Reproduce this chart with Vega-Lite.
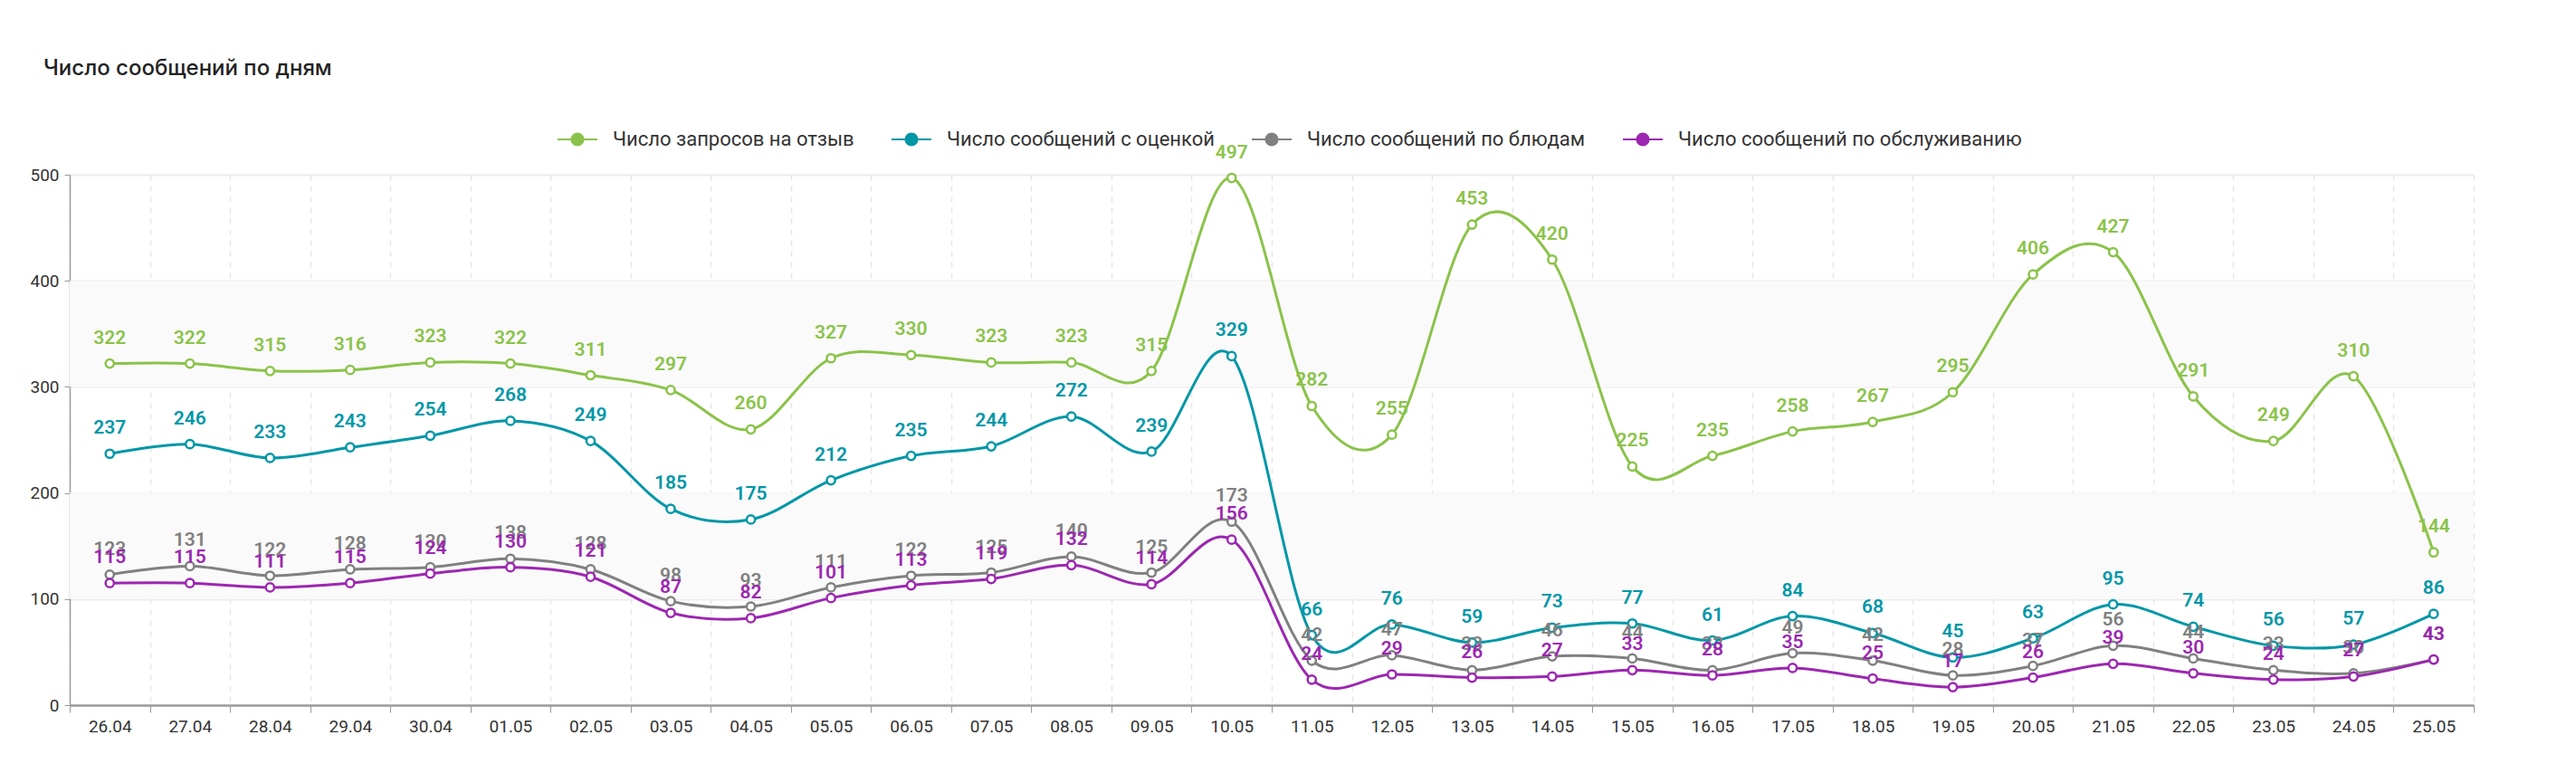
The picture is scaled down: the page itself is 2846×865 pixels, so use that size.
{
  "$schema": "https://vega.github.io/schema/vega-lite/v6.json",
  "width": 2656,
  "height": 586,
  "autosize": {"type": "none"},
  "padding": {"left": 77, "top": 193, "right": 113, "bottom": 86},
  "background": "#ffffff",
  "title": {
    "text": "Число сообщений по дням",
    "anchor": "start",
    "frame": "group",
    "dx": -29,
    "offset": 43,
    "font": "Inter",
    "fontSize": 24,
    "fontWeight": 500,
    "color": "#222222"
  },
  "datasets": {
    "stripes": [
      {"lo": 100, "hi": 200},
      {"lo": 300, "hi": 400}
    ],
    "counts": [
      {"day": "26.04", "series": "Число запросов на отзыв", "value": 322},
      {"day": "27.04", "series": "Число запросов на отзыв", "value": 322},
      {"day": "28.04", "series": "Число запросов на отзыв", "value": 315},
      {"day": "29.04", "series": "Число запросов на отзыв", "value": 316},
      {"day": "30.04", "series": "Число запросов на отзыв", "value": 323},
      {"day": "01.05", "series": "Число запросов на отзыв", "value": 322},
      {"day": "02.05", "series": "Число запросов на отзыв", "value": 311},
      {"day": "03.05", "series": "Число запросов на отзыв", "value": 297},
      {"day": "04.05", "series": "Число запросов на отзыв", "value": 260},
      {"day": "05.05", "series": "Число запросов на отзыв", "value": 327},
      {"day": "06.05", "series": "Число запросов на отзыв", "value": 330},
      {"day": "07.05", "series": "Число запросов на отзыв", "value": 323},
      {"day": "08.05", "series": "Число запросов на отзыв", "value": 323},
      {"day": "09.05", "series": "Число запросов на отзыв", "value": 315},
      {"day": "10.05", "series": "Число запросов на отзыв", "value": 497},
      {"day": "11.05", "series": "Число запросов на отзыв", "value": 282},
      {"day": "12.05", "series": "Число запросов на отзыв", "value": 255},
      {"day": "13.05", "series": "Число запросов на отзыв", "value": 453},
      {"day": "14.05", "series": "Число запросов на отзыв", "value": 420},
      {"day": "15.05", "series": "Число запросов на отзыв", "value": 225},
      {"day": "16.05", "series": "Число запросов на отзыв", "value": 235},
      {"day": "17.05", "series": "Число запросов на отзыв", "value": 258},
      {"day": "18.05", "series": "Число запросов на отзыв", "value": 267},
      {"day": "19.05", "series": "Число запросов на отзыв", "value": 295},
      {"day": "20.05", "series": "Число запросов на отзыв", "value": 406},
      {"day": "21.05", "series": "Число запросов на отзыв", "value": 427},
      {"day": "22.05", "series": "Число запросов на отзыв", "value": 291},
      {"day": "23.05", "series": "Число запросов на отзыв", "value": 249},
      {"day": "24.05", "series": "Число запросов на отзыв", "value": 310},
      {"day": "25.05", "series": "Число запросов на отзыв", "value": 144},

      {"day": "26.04", "series": "Число сообщений с оценкой", "value": 237},
      {"day": "27.04", "series": "Число сообщений с оценкой", "value": 246},
      {"day": "28.04", "series": "Число сообщений с оценкой", "value": 233},
      {"day": "29.04", "series": "Число сообщений с оценкой", "value": 243},
      {"day": "30.04", "series": "Число сообщений с оценкой", "value": 254},
      {"day": "01.05", "series": "Число сообщений с оценкой", "value": 268},
      {"day": "02.05", "series": "Число сообщений с оценкой", "value": 249},
      {"day": "03.05", "series": "Число сообщений с оценкой", "value": 185},
      {"day": "04.05", "series": "Число сообщений с оценкой", "value": 175},
      {"day": "05.05", "series": "Число сообщений с оценкой", "value": 212},
      {"day": "06.05", "series": "Число сообщений с оценкой", "value": 235},
      {"day": "07.05", "series": "Число сообщений с оценкой", "value": 244},
      {"day": "08.05", "series": "Число сообщений с оценкой", "value": 272},
      {"day": "09.05", "series": "Число сообщений с оценкой", "value": 239},
      {"day": "10.05", "series": "Число сообщений с оценкой", "value": 329},
      {"day": "11.05", "series": "Число сообщений с оценкой", "value": 66},
      {"day": "12.05", "series": "Число сообщений с оценкой", "value": 76},
      {"day": "13.05", "series": "Число сообщений с оценкой", "value": 59},
      {"day": "14.05", "series": "Число сообщений с оценкой", "value": 73},
      {"day": "15.05", "series": "Число сообщений с оценкой", "value": 77},
      {"day": "16.05", "series": "Число сообщений с оценкой", "value": 61},
      {"day": "17.05", "series": "Число сообщений с оценкой", "value": 84},
      {"day": "18.05", "series": "Число сообщений с оценкой", "value": 68},
      {"day": "19.05", "series": "Число сообщений с оценкой", "value": 45},
      {"day": "20.05", "series": "Число сообщений с оценкой", "value": 63},
      {"day": "21.05", "series": "Число сообщений с оценкой", "value": 95},
      {"day": "22.05", "series": "Число сообщений с оценкой", "value": 74},
      {"day": "23.05", "series": "Число сообщений с оценкой", "value": 56},
      {"day": "24.05", "series": "Число сообщений с оценкой", "value": 57},
      {"day": "25.05", "series": "Число сообщений с оценкой", "value": 86},

      {"day": "26.04", "series": "Число сообщений по блюдам", "value": 123},
      {"day": "27.04", "series": "Число сообщений по блюдам", "value": 131},
      {"day": "28.04", "series": "Число сообщений по блюдам", "value": 122},
      {"day": "29.04", "series": "Число сообщений по блюдам", "value": 128},
      {"day": "30.04", "series": "Число сообщений по блюдам", "value": 130},
      {"day": "01.05", "series": "Число сообщений по блюдам", "value": 138},
      {"day": "02.05", "series": "Число сообщений по блюдам", "value": 128},
      {"day": "03.05", "series": "Число сообщений по блюдам", "value": 98},
      {"day": "04.05", "series": "Число сообщений по блюдам", "value": 93},
      {"day": "05.05", "series": "Число сообщений по блюдам", "value": 111},
      {"day": "06.05", "series": "Число сообщений по блюдам", "value": 122},
      {"day": "07.05", "series": "Число сообщений по блюдам", "value": 125},
      {"day": "08.05", "series": "Число сообщений по блюдам", "value": 140},
      {"day": "09.05", "series": "Число сообщений по блюдам", "value": 125},
      {"day": "10.05", "series": "Число сообщений по блюдам", "value": 173},
      {"day": "11.05", "series": "Число сообщений по блюдам", "value": 42},
      {"day": "12.05", "series": "Число сообщений по блюдам", "value": 47},
      {"day": "13.05", "series": "Число сообщений по блюдам", "value": 33},
      {"day": "14.05", "series": "Число сообщений по блюдам", "value": 46},
      {"day": "15.05", "series": "Число сообщений по блюдам", "value": 44},
      {"day": "16.05", "series": "Число сообщений по блюдам", "value": 33},
      {"day": "17.05", "series": "Число сообщений по блюдам", "value": 49},
      {"day": "18.05", "series": "Число сообщений по блюдам", "value": 42},
      {"day": "19.05", "series": "Число сообщений по блюдам", "value": 28},
      {"day": "20.05", "series": "Число сообщений по блюдам", "value": 37},
      {"day": "21.05", "series": "Число сообщений по блюдам", "value": 56},
      {"day": "22.05", "series": "Число сообщений по блюдам", "value": 44},
      {"day": "23.05", "series": "Число сообщений по блюдам", "value": 33},
      {"day": "24.05", "series": "Число сообщений по блюдам", "value": 30},
      {"day": "25.05", "series": "Число сообщений по блюдам", "value": 43},

      {"day": "26.04", "series": "Число сообщений по обслуживанию", "value": 115},
      {"day": "27.04", "series": "Число сообщений по обслуживанию", "value": 115},
      {"day": "28.04", "series": "Число сообщений по обслуживанию", "value": 111},
      {"day": "29.04", "series": "Число сообщений по обслуживанию", "value": 115},
      {"day": "30.04", "series": "Число сообщений по обслуживанию", "value": 124},
      {"day": "01.05", "series": "Число сообщений по обслуживанию", "value": 130},
      {"day": "02.05", "series": "Число сообщений по обслуживанию", "value": 121},
      {"day": "03.05", "series": "Число сообщений по обслуживанию", "value": 87},
      {"day": "04.05", "series": "Число сообщений по обслуживанию", "value": 82},
      {"day": "05.05", "series": "Число сообщений по обслуживанию", "value": 101},
      {"day": "06.05", "series": "Число сообщений по обслуживанию", "value": 113},
      {"day": "07.05", "series": "Число сообщений по обслуживанию", "value": 119},
      {"day": "08.05", "series": "Число сообщений по обслуживанию", "value": 132},
      {"day": "09.05", "series": "Число сообщений по обслуживанию", "value": 114},
      {"day": "10.05", "series": "Число сообщений по обслуживанию", "value": 156},
      {"day": "11.05", "series": "Число сообщений по обслуживанию", "value": 24},
      {"day": "12.05", "series": "Число сообщений по обслуживанию", "value": 29},
      {"day": "13.05", "series": "Число сообщений по обслуживанию", "value": 26},
      {"day": "14.05", "series": "Число сообщений по обслуживанию", "value": 27},
      {"day": "15.05", "series": "Число сообщений по обслуживанию", "value": 33},
      {"day": "16.05", "series": "Число сообщений по обслуживанию", "value": 28},
      {"day": "17.05", "series": "Число сообщений по обслуживанию", "value": 35},
      {"day": "18.05", "series": "Число сообщений по обслуживанию", "value": 25},
      {"day": "19.05", "series": "Число сообщений по обслуживанию", "value": 17},
      {"day": "20.05", "series": "Число сообщений по обслуживанию", "value": 26},
      {"day": "21.05", "series": "Число сообщений по обслуживанию", "value": 39},
      {"day": "22.05", "series": "Число сообщений по обслуживанию", "value": 30},
      {"day": "23.05", "series": "Число сообщений по обслуживанию", "value": 24},
      {"day": "24.05", "series": "Число сообщений по обслуживанию", "value": 27},
      {"day": "25.05", "series": "Число сообщений по обслуживанию", "value": 43}
    ]
  },
  "config": {
    "font": "Roboto",
    "view": {"stroke": null},
    "axis": {
      "labelFont": "Roboto",
      "labelFontSize": 19,
      "labelColor": "#333333",
      "domainColor": "#9a9a9a",
      "tickColor": "#9a9a9a",
      "title": null
    }
  },
  "layer": [
    {
      "data": {"name": "stripes"},
      "mark": {"type": "rect", "color": "#fafafa"},
      "encoding": {
        "y": {"field": "lo", "type": "quantitative", "scale": {"domain": [0, 500]}},
        "y2": {"field": "hi"}
      }
    },
    {
      "data": {"name": "counts"},
      "encoding": {
        "x": {
          "field": "day",
          "type": "ordinal",
          "sort": null,
          "scale": {"paddingInner": 0, "paddingOuter": 0},
          "axis": {
            "labelAngle": 0,
            "tickBand": "extent",
            "tickSize": 8,
            "labelPadding": 6,
            "domainWidth": 2.5,
            "grid": true,
            "gridColor": "#e6e6e6",
            "gridWidth": 1.5,
            "gridDash": [6, 6]
          }
        },
        "y": {
          "field": "value",
          "type": "quantitative",
          "scale": {"domain": [0, 500], "nice": false},
          "axis": {
            "values": [0, 100, 200, 300, 400, 500],
            "tickSize": 6,
            "labelPadding": 6,
            "domainWidth": 1.5,
            "grid": true,
            "gridColor": "#ececec",
            "gridWidth": 2
          }
        }
      },
      "layer": [
        {
          "mark": {"type": "line", "interpolate": "cardinal", "strokeWidth": 3},
          "encoding": {
            "color": {
              "field": "series",
              "type": "nominal",
              "sort": null,
              "scale": {
                "domain": [
                  "Число запросов на отзыв",
                  "Число сообщений с оценкой",
                  "Число сообщений по блюдам",
                  "Число сообщений по обслуживанию"
                ],
                "range": ["#8bc34a", "#0097a7", "#808080", "#9c27b0"]
              },
              "legend": {
                "orient": "none",
                "legendX": 538,
                "legendY": -62,
                "direction": "horizontal",
                "columns": 4,
                "title": null,
                "labelFont": "Roboto",
                "labelFontSize": 22,
                "labelColor": "#333333",
                "labelLimit": 500,
                "labelOffset": 16,
                "columnPadding": 37,
                "symbolType": "M-1,0H-0.3M0.3,0H1M0.3,0A0.3,0.3,0,1,1,-0.3,0A0.3,0.3,0,1,1,0.3,0Z",
                "symbolSize": 1936,
                "symbolStrokeWidth": 2,
                "symbolFillColor": "#ffffff"
              }
            }
          }
        },
        {
          "mark": {"type": "point", "shape": "circle", "fill": "#ffffff", "fillOpacity": 1, "size": 85, "strokeWidth": 2.5, "opacity": 1},
          "encoding": {
            "stroke": {
              "field": "series",
              "type": "nominal",
              "legend": null,
              "scale": {
                "domain": [
                  "Число запросов на отзыв",
                  "Число сообщений с оценкой",
                  "Число сообщений по блюдам",
                  "Число сообщений по обслуживанию"
                ],
                "range": ["#8bc34a", "#0097a7", "#808080", "#9c27b0"]
              }
            }
          }
        },
        {
          "mark": {"type": "text", "dy": -28, "baseline": "middle", "fontSize": 21, "fontWeight": 600, "font": "Roboto"},
          "encoding": {
            "text": {"field": "value", "type": "quantitative"},
            "fill": {
              "field": "series",
              "type": "nominal",
              "legend": null,
              "scale": {
                "domain": [
                  "Число запросов на отзыв",
                  "Число сообщений с оценкой",
                  "Число сообщений по блюдам",
                  "Число сообщений по обслуживанию"
                ],
                "range": ["#8bc34a", "#0097a7", "#808080", "#9c27b0"]
              }
            }
          }
        }
      ]
    }
  ]
}
